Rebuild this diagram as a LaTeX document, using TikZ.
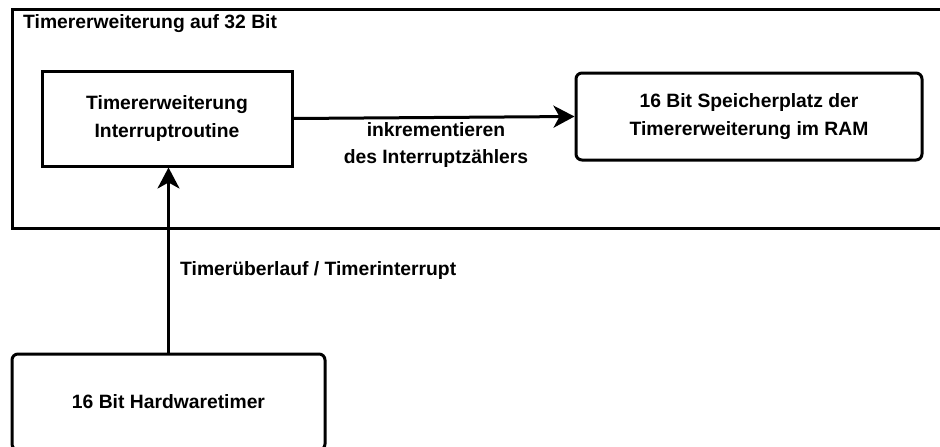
\documentclass[tikz,border=0pt]{standalone}
\usepackage{fontspec}
\setmainfont{Liberation Sans}
\usetikzlibrary{arrows.meta}
\begin{document}
\begin{tikzpicture}[x=1pt,y=-1pt,
  font=\fontsize{19.3}{27.5}\selectfont\bfseries,
  frame/.style={draw=black,line width=3pt},
  plainbox/.style={frame,rectangle,inner sep=0pt,align=center},
  roundbox/.style={plainbox,rounded corners=6pt},
  flow/.style={line width=3pt,-{Stealth[length=21pt,width=22pt,inset=6pt]}},
  lbl/.style={inner sep=0pt,align=center}]
\useasboundingbox (0,0) rectangle (940,447);
\clip (0,0) rectangle (940,447);
\fill[white] (0,0) rectangle (940,447);

% outer group, open towards the right
\draw[frame] (950,9) -- (12,9) -- (12,228) -- (950,228);
\node[lbl,anchor=base west] (title) at (23,28) {Timererweiterung auf 32 Bit};

% boxes
\node[plainbox,minimum width=250pt,minimum height=95pt] (irq) at (167,118.5)
  {Timererweiterung\\Interruptroutine};
\node[roundbox,minimum width=346pt,minimum height=87pt] (ram) at (749,116.5)
  {16 Bit Speicherplatz der\\Timererweiterung im RAM};
\node[roundbox,minimum width=313pt,minimum height=96pt] (hw) at (168.5,402)
  {16 Bit Hardwaretimer};

% connectors
\draw[flow] (irq.east) -- (ram.west);
\node[lbl] (inc) at (436,145) {inkrementieren\\des Interruptzählers};
\draw[flow] (hw.north) -- (hw.north |- irq.south);
\node[lbl,anchor=west] (ovf) at (180,271) {Timerüberlauf / Timerinterrupt};
\end{tikzpicture}
\end{document}
